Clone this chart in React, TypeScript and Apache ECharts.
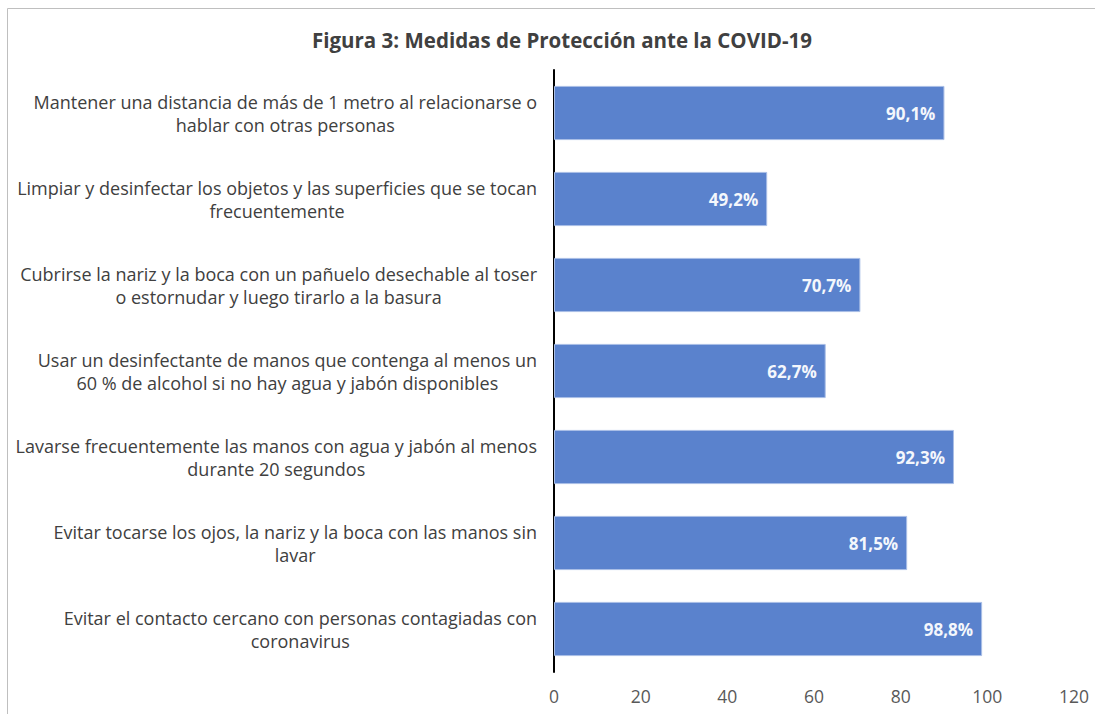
import React, { useEffect, useRef } from "react";
import * as echarts from "echarts";

const titleText = "Figura 3: Medidas de Protección ante la COVID-19";

const categories: string[] = [
  "Mantener una distancia de más de 1 metro al relacionarse o\nhablar con otras personas",
  "Limpiar y desinfectar los objetos y las superficies que se tocan\nfrecuentemente",
  "Cubrirse la nariz y la boca con un pañuelo desechable al toser\no estornudar y luego tirarlo a la basura",
  "Usar un desinfectante de manos que contenga al menos un\n60 % de alcohol si no hay agua y jabón disponibles",
  "Lavarse frecuentemente las manos con agua y jabón al menos\ndurante 20 segundos",
  "Evitar tocarse los ojos, la nariz y la boca con las manos sin\nlavar",
  "Evitar el contacto cercano con personas contagiadas con\ncoronavirus",
];

const values: number[] = [90.1, 49.2, 70.7, 62.7, 92.3, 81.5, 98.8];

const xMin = 0;
const xMax = 120;
const xStep = 20;

const FONT = "'Open Sans', 'Noto Sans', sans-serif";

export default function App() {
  const ref = useRef<HTMLDivElement>(null);

  useEffect(() => {
    if (!ref.current) return;
    const chart = echarts.init(ref.current, undefined, { renderer: "svg" });
    chart.setOption({
      animation: false,
      backgroundColor: "#ffffff",
      textStyle: { fontFamily: FONT },
      title: {
        text: titleText,
        left: 557,
        top: 24,
        textAlign: "center",
        textStyle: {
          fontFamily: FONT,
          fontSize: 20.5,
          fontWeight: "bold",
          color: "#404040",
        },
      },
      graphic: [
        {
          type: "rect",
          shape: { x: 7.5, y: 8.5, width: 1100, height: 720 },
          style: { fill: "none", stroke: "#BFBFBF", lineWidth: 1 },
          silent: true,
          z: 100,
        },
      ],
      grid: { left: 554, right: 21, top: 70, bottom: 42, containLabel: false },
      xAxis: {
        type: "value",
        min: xMin,
        max: xMax,
        interval: xStep,
        axisLine: { show: false },
        axisTick: { show: false },
        splitLine: { show: false },
        axisLabel: {
          margin: 15,
          fontSize: 17.5,
          fontFamily: FONT,
          color: "#595959",
        },
      },
      yAxis: {
        type: "category",
        inverse: true,
        data: categories,
        axisLine: { show: true, lineStyle: { color: "#000000", width: 2 } },
        axisTick: { show: false },
        splitLine: { show: false },
        axisLabel: {
          margin: 17,
          align: "right",
          fontSize: 18,
          fontFamily: FONT,
          color: "#404040",
          lineHeight: 23,
          formatter: (v: string) =>
            v
              .split("\n")
              .map((l) => `{c|${l}}`)
              .join("\n"),
          rich: {
            c: {
              align: "center",
              fontSize: 18,
              fontFamily: FONT,
              color: "#404040",
              lineHeight: 23,
            },
          },
        },
      },
      series: [
        {
          type: "bar",
          data: values,
          barCategoryGap: "37%",
          itemStyle: {
            color: "#5A82CD",
            borderColor: "#A9BEE6",
            borderWidth: 1,
          },
          label: {
            show: true,
            position: "insideRight",
            distance: 9,
            fontFamily: FONT,
            fontSize: 17,
            fontWeight: "bold",
            color: "#F4F7FC",
            formatter: (p: any) =>
              `${Number(p.value).toFixed(1).replace(".", ",")}%`,
          },
        },
      ],
    });
    return () => chart.dispose();
  }, []);

  return (
    <div
      ref={ref}
      style={{ position: "fixed", left: 0, top: 0, width: 1095, height: 714 }}
    />
  );
}
